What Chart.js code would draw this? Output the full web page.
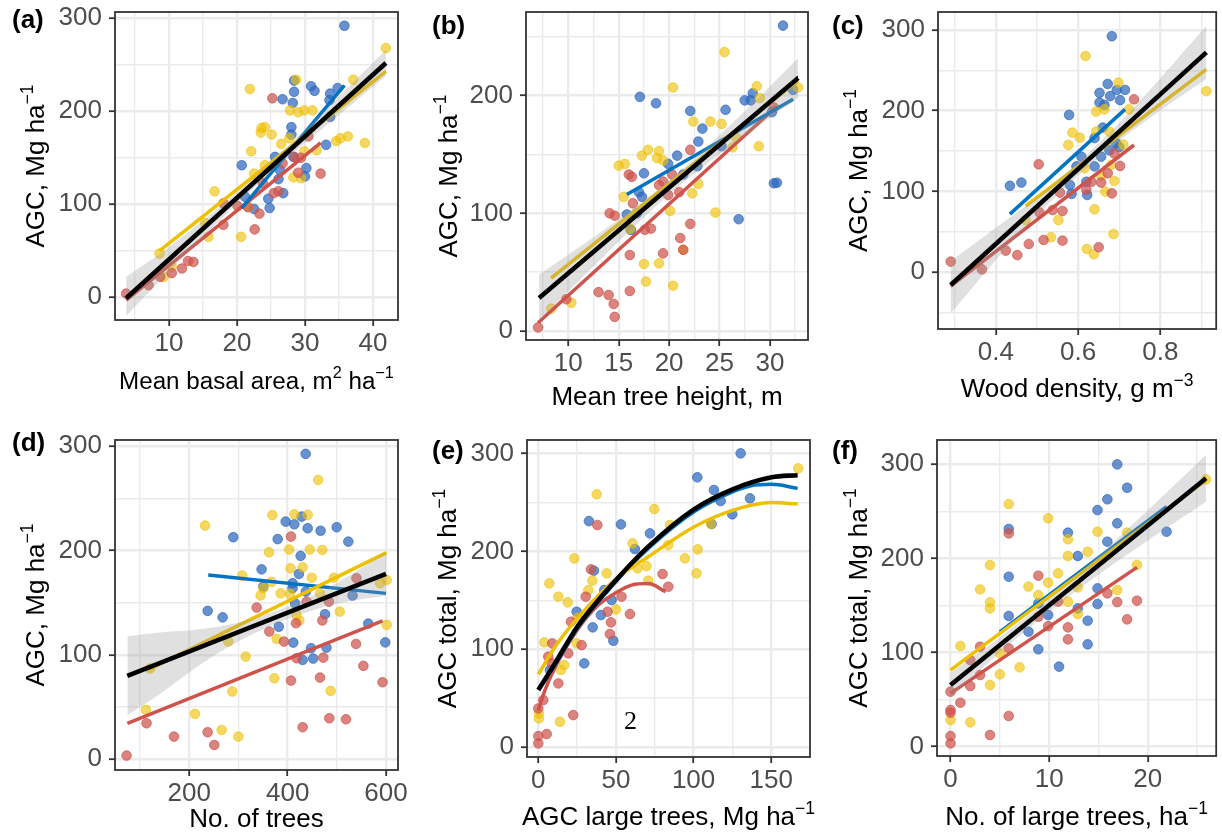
<!DOCTYPE html>
<html>
<head>
<meta charset="utf-8">
<title>AGC scatter panels</title>
<script src="https://cdn.jsdelivr.net/npm/chart.js@4/dist/chart.umd.min.js"></script>
<style>
  html, body { margin: 0; padding: 0; background: #fff; }
  #fig { position: relative; width: 1222px; height: 836px; overflow: hidden; }
  #fig canvas { position: absolute; }
</style>
</head>
<body>
<div id="fig"></div>
<script>
// ---- (a) mean basal area ----
const aBlue = [[35.8,292],[28.4,233],[30.9,227],[31.4,222],[28.4,221],[26.7,213],[28.2,209],[34.8,225],[33.7,219],[33.6,212],[28.0,183],[28.0,175],[33.7,194],[33.1,164],[20.7,142],[25.6,151],[26.3,137],[30.2,139],[30.0,130],[26.1,127],[26.8,112],[24.6,106],[24.8,96],[22.5,95],[21.2,108],[28.3,151]];
const aYellow = [[41.9,268],[37.1,234],[28.7,234],[21.9,224],[27.8,201],[29.0,199],[29.9,201],[31.1,201],[23.6,182],[24.1,183],[23.5,177],[25.1,175],[27.7,171],[26.5,165],[34.6,168],[35.2,171],[36.3,173],[38.8,166],[31.7,158],[22.1,157],[29.9,157],[24.1,142],[22.5,133],[28.3,129],[29.4,128],[16.7,114],[21.6,97],[20.6,65],[15.8,65],[15.3,80],[8.6,47],[9.2,22],[10.4,33]];
const aRed = [[25.2,214],[32.3,133],[30.5,173],[28.4,151],[29.4,150],[26.7,144],[29.0,134],[25.4,112],[26.1,114],[23.8,123],[23.3,90],[22.6,73],[21.6,97],[20.1,98],[18.0,78],[18.0,101],[12.8,39],[13.6,38],[11.9,31],[10.4,26],[3.7,4],[7.0,13],[8.7,22]];
const aFitBlack = [[3.7,-1],[41.9,252]];
const aFitYellow = [[8.6,50],[41.9,243]];
const aFitBlue = [[20.7,96],[35.8,228]];
const aFitRed = [[3.7,-3],[32.3,166]];
const aBand = [[3.7,-20,22],[10,27.7,53.7],[20,100.9,112.9],[25,134.5,145.5],[30,166,180],[35,196,216],[41.9,238,266]];

// ---- (b) mean tree height ----
const bBlue = [[31.3,259.5],[17.1,199],[18.7,193.5],[22.1,187],[25.6,188],[27.5,196],[28.3,202],[28.1,196],[32.3,205],[30.2,186],[23.3,172],[22.9,161],[20.8,149],[19.9,142],[17.5,134],[22.8,140],[25.2,157],[21.4,133],[30.4,125.5],[30.7,126],[17.0,118],[17.3,114],[15.8,99],[16.8,100],[16.2,86],[26.9,95]];
const bYellow = [[25.5,237],[20.4,207],[28.7,208],[32.8,207],[29.0,198],[22.4,178],[24.1,178],[25.2,176],[28.9,157],[26.7,164],[26.3,156],[17.3,149],[17.9,154],[19.0,153],[18.8,147],[19.4,145],[15.0,140.5],[15.6,142],[22.3,117],[22.9,125],[15.5,114],[20.1,102],[24.6,100.6],[21.4,69],[17.5,57],[19.0,57.5],[17.7,42],[20.4,38.5],[10.3,24],[8.3,19],[16.1,87]];
const bRed = [[22.1,154],[16.0,133],[16.3,131],[19.0,124],[19.4,127],[20.3,133],[16.4,108.5],[21.0,118],[19.9,115.6],[14.1,100],[14.6,98],[17.6,86],[18.2,87],[22.1,91],[21.1,79],[21.4,69],[19.4,66],[16.1,64.6],[13.0,33],[14.0,30.6],[14.5,23],[14.6,12],[16.1,34],[9.8,27],[7.0,3],[30.4,190]];
const bFitBlack = [[7.1,28],[32.8,215]];
const bFitYellow = [[8.3,45],[32.8,213]];
const bFitBlue = [[15.8,116],[32.3,197]];
const bFitRed = [[7.0,7],[30.7,191]];
const bBand = [[7.1,8,48],[12,50.7,76.7],[17,92.5,107.5],[20,115.9,127.9],[23,137.3,150.3],[28,169,191],[32.8,198,232]];

// ---- (c) wood density ----
const cBlue = [[0.682,292],[0.672,233],[0.652,222],[0.678,218],[0.694,225.6],[0.714,225.6],[0.702,213],[0.652,210],[0.664,207],[0.578,194.6],[0.66,179],[0.64,166],[0.692,160],[0.608,143],[0.64,131],[0.656,143],[0.596,131],[0.676,151],[0.7,155],[0.62,112],[0.622,95.7],[0.584,97],[0.58,108],[0.434,107],[0.462,111]];
const cYellow = [[0.618,267.6],[0.698,234.6],[0.912,224],[0.724,201.6],[0.644,198.8],[0.664,201.6],[0.586,172.8],[0.604,166.6],[0.576,157.5],[0.644,174],[0.676,174],[0.71,158],[0.68,132.8],[0.616,128.7],[0.656,119.6],[0.688,113],[0.666,99.8],[0.64,78],[0.552,64.7],[0.534,43.3],[0.686,47.4],[0.621,28.9],[0.638,22.3],[0.472,64.7]];
const cRed = [[0.736,214],[0.504,133.6],[0.702,131.5],[0.688,147],[0.672,122.5],[0.656,111],[0.632,112],[0.62,102],[0.682,97.7],[0.556,98.6],[0.538,77],[0.562,75.9],[0.506,74],[0.48,35],[0.516,40],[0.562,39.2],[0.65,31],[0.452,21.4],[0.424,26.8],[0.366,3.7],[0.29,13.2]];
const cFitBlack = [[0.29,-15.7],[0.912,272]];
const cFitYellow = [[0.472,82],[0.912,251]];
const cFitBlue = [[0.434,72],[0.714,201.6]];
const cFitRed = [[0.29,-17],[0.736,157.5]];
const cBand = [[0.29,-51,14],[0.4,15.2,55.2],[0.5,70.4,92.4],[0.6,119.7,135.7],[0.7,162.9,184.9],[0.8,200.2,240.2],[0.912,239,305]];

// ---- (d) number of trees ----
const dBlue = [[436.6,292.7],[396,227.8],[413.6,225.2],[428.5,232.6],[440.7,221.4],[467,219],[499.7,222.4],[523.4,208.6],[379.7,211],[289.5,212.8],[426.4,194.9],[347,182],[423,177.6],[410,168.7],[350.5,165.5],[410,163.9],[437,160.7],[532,156.9],[415,149.5],[237.3,142.2],[267.8,136],[476,139],[382,127],[564,130],[411.5,111.8],[447.5,106.4],[479,107],[430.5,95.2],[452,96.5],[598.6,112]];
const dYellow = [[462,267.7],[232,224],[368.8,234],[413.6,234.8],[440.7,234.2],[362,198.4],[403,201],[445,201],[470.5,200.6],[406,183],[430.5,184],[307.8,176],[367.5,170],[449,174],[494,174],[601.4,171.9],[588,168.7],[350.5,164],[345,157],[385.8,159],[465.8,159],[404.7,158.5],[506,141.5],[418,138.3],[423.7,133],[601.4,128.8],[377.6,115.3],[279.3,112.8],[314.6,98.4],[372.9,77.6],[287.5,64.9],[487.5,65.5],[111.9,47.3],[211.5,43.5],[265.8,28.1],[299.7,21.7],[120,87]];
const dRed = [[406.8,213.4],[540,173.5],[484,151],[337,145.4],[362.7,122.4],[392.5,112.8],[417,130.4],[470.5,133],[539,110.5],[418,96.8],[472.5,97.4],[554,89.5],[406.8,75.4],[465.8,78.3],[593,73.8],[484.7,39.3],[518.6,38.3],[430.5,30.7],[113,34.5],[168.8,21.7],[237.3,25.9],[250.8,13.7],[72.5,3.5],[438.6,151]];
const dFitBlack = [[73.9,80],[600,177.6]];
const dFitYellow = [[113,85],[601,198]];
const dFitBlue = [[238.6,176.7],[600,159]];
const dFitRed = [[74,34.5],[593,132.6]];
const dBand = [[74,42,118],[150,66,122],[200,83.4,123.4],[300,113,131],[400,134.5,146.5],[500,149,169],[600,156.6,198.6]];

// ---- (e) AGC of large trees ----
const eBlue = [[130.3,300.3],[102.4,275.8],[113.1,262.8],[117.4,251.5],[136.3,254.3],[124.9,237.9],[111.6,228],[32.6,231],[53.2,227.6],[71.9,218.4],[62.2,202.4],[35.8,180.2],[42.5,160.4],[47.2,150.2],[40.3,134.8],[24.7,138.2],[35,122.2],[48.3,108.5],[29.6,85.3],[7.5,78.5]];
const eYellow = [[167.4,285],[37.6,258.4],[74.7,243.3],[111.2,228],[83.7,206.5],[84.8,227],[60.7,208.2],[102.6,202],[94.4,192.8],[23.2,192.8],[101.9,177.5],[69.7,185],[63.9,182.6],[44,177.5],[70.8,170],[34.8,170],[7.1,167.2],[32.2,160.4],[12.9,153.6],[18.9,147.8],[50,140.6],[25.3,132],[3.9,106.8],[24.7,105.8],[16.7,83.6],[14.6,78.5],[0.4,29],[0.4,34.1],[13.9,25.6]];
const eRed = [[38,227],[33.9,181.6],[80,176.8],[83.7,163.8],[53.6,153.6],[30.5,153.6],[59,135.8],[44.6,138.2],[46.8,127.3],[21,128],[46.1,115.4],[27.9,104],[9,105.8],[19.3,95.6],[6.4,92.2],[12.9,64.8],[3.2,47.8],[0,39.2],[22.5,32.4],[5.4,13],[0,10.9],[0,3.4],[8.6,85.3]];
const eFitBlack = [[0,58],[10.7,85.3],[25.1,122.9],[38.6,150],[50,170.6],[70.8,204.8],[100.2,243],[125.1,263.5],[150.2,275.8],[167,278]];
const eFitBlue = [[1.1,61.4],[10.7,83.6],[25.1,121],[50,169],[70.8,203],[100.2,240.6],[125,261],[136.3,267],[150.2,268.6],[167,264.5]];
const eFitYellow = [[0,74],[10.7,102],[25.1,131.4],[50,172],[70.8,194.5],[100.2,225],[125.1,242],[150.2,250],[167,248.5]];
const eFitRed = [[0,37.5],[4.3,58],[10.7,81],[25.1,119.5],[38.6,145],[50,157.7],[60.1,165.5],[70.8,167],[82,158.7]];

// ---- (f) number of large trees ----
const fBlue = [[16.9,299.8],[17.9,275],[15.9,262.7],[14.9,251.3],[16.9,237.2],[5.9,231.2],[11.9,227.3],[21.9,228.3],[15.9,217.7],[12.9,202.5],[5.9,180.5],[14.9,168.1],[14.9,151.5],[8.9,152.2],[9.9,139.8],[5.9,138.8],[12.9,146.9],[13.9,133.8],[7.9,122.1],[8.9,103.4],[13.9,108.7],[11,85]];
const fYellow = [[25.9,283.9],[5.9,257.7],[9.9,242.5],[14.9,228.3],[11.9,220.2],[17.9,227.3],[11.9,202.5],[13.9,207],[4,192.9],[10.9,184.1],[7.9,170],[9.9,174.2],[3,167],[8.9,161],[12.9,169.2],[16.9,166.4],[18.9,193],[4,153.3],[4,146.9],[11.9,154],[12.9,140.9],[1,106.9],[5,99],[7,84.2],[5,76.8],[4,65.5],[0,28.3],[2,25.8]];
const fRed = [[5.9,226.5],[8.9,181.6],[15.9,162.8],[16.9,153.6],[18.9,155],[17.9,135.2],[10.9,154],[8.9,138],[9.9,128],[11.9,126.7],[11.9,114],[3,106.2],[5.9,104.4],[2,92],[3,76.1],[2,64.4],[0,58.4],[1,46.7],[5.9,32.6],[0,38.9],[0,36.1],[4,12.4],[0,11.3],[0,3.5]];
const fFitBlack = [[0,65.5],[25.9,285]];
const fFitYellow = [[0,81.4],[25.9,283]];
const fFitBlue = [[5,122],[21.9,254.9]];
const fFitRed = [[0,56.6],[18.9,190.4]];
const fBand = [[0,52.5,78.5],[5,99.9,115.9],[10,143.3,157.3],[15,182.6,202.6],[20,219,251],[25.9,260,310]];

// ---- styling ----
const FONT = "'Liberation Sans', Arial, Helvetica, sans-serif";
const TEXT_PX = 26;
const SUP_PX = 17.5;
const BLUE = '#0073C2', YELLOW = '#EFC000', RED = '#CD534C';
const BLUE_PT = 'rgba(46,104,188,0.72)';
const YELLOW_PT = 'rgba(239,192,0,0.62)';
const RED_PT = 'rgba(205,83,76,0.72)';
const BAND = 'rgba(153,153,153,0.3)';
const GRID = '#EBEBEB';
const INK = '#333333';

const AGC_Y = [['AGC, Mg ha'], ['\u22121', 1]];
const AGC_TOTAL_Y = [['AGC total, Mg ha'], ['\u22121', 1]];

// box = canvas [left, top, width, height]; frame = panel [left, top, right, bottom]
const panels = [
  { tag: '(a)', tagAt: [12, 21], box: [0, 0, 410, 420], frame: [115, 12, 398, 320],
    x: { min: 2.06, max: 43.68, step: 5, major: 10 }, y: { min: -24.4, max: 306.8, step: 50, major: 100 },
    xTitle: [['Mean basal area, m'], ['2', 1], [' ha'], ['\u22121', 1]], xTitleY: 380, xTitleScale: 0.93,
    yTitle: AGC_Y, yTitleX: 35,
    blue: aBlue, yellow: aYellow, red: aRed,
    fits: [aFitYellow, aFitBlue, aFitRed], black: aFitBlack, band: aBand },
  { tag: '(b)', tagAt: [432, 27], box: [410, 0, 410, 420], frame: [526, 12, 808, 340],
    x: { min: 5.8, max: 33.78, step: 2.5, major: 5 }, y: { min: -7.65, max: 271.1, step: 50, major: 100 },
    xTitle: [['Mean tree height, m']], xTitleY: 396,
    yTitle: AGC_Y, yTitleX: 448,
    blue: bBlue, yellow: bYellow, red: bRed,
    fits: [bFitYellow, bFitBlue, bFitRed], black: bFitBlack, band: bBand },
  { tag: '(c)', tagAt: [832, 27], box: [820, 0, 402, 420], frame: [938, 12, 1220, 329],
    x: { min: 0.2591, max: 0.9359, step: 0.1, major: 0.2, fmt: v => v.toFixed(1) },
    y: { min: -70.1, max: 322, step: 50, major: 100 },
    xTitle: [['Wood density, g m'], ['\u22123', 1]], xTitleY: 388,
    yTitle: AGC_Y, yTitleX: 858,
    blue: cBlue, yellow: cYellow, red: cRed,
    fits: [cFitYellow, cFitBlue, cFitRed], black: cFitBlack, band: cBand },
  { tag: '(d)', tagAt: [12, 444], box: [0, 420, 410, 416], frame: [115, 440, 398, 770],
    x: { min: 48.9, max: 624.4, step: 100, major: 200 }, y: { min: -10.3, max: 306, step: 50, major: 100 },
    xTitle: [['No. of trees']], xTitleY: 818,
    yTitle: AGC_Y, yTitleX: 35,
    blue: dBlue, yellow: dYellow, red: dRed,
    fits: [dFitYellow, dFitBlue, dFitRed], black: dFitBlack, band: dBand },
  { tag: '(e)', tagAt: [432, 452], box: [410, 420, 410, 416], frame: [527, 440, 810, 757],
    x: { min: -7.28, max: 174.95, step: 25, major: 50 }, y: { min: -10.5, max: 314, step: 50, major: 100 },
    xTitle: [['AGC large trees, Mg ha'], ['\u22121', 1]], xTitleY: 816,
    yTitle: AGC_TOTAL_Y, yTitleX: 447,
    blue: eBlue, yellow: eYellow, red: eRed,
    fits: [eFitYellow, eFitBlue, eFitRed], black: eFitBlack, band: null,
    note: { text: '2', x: 59.4, y: 25.5 } },
  { tag: '(f)', tagAt: [832, 452], box: [820, 420, 402, 416], frame: [937, 440, 1220, 756],
    x: { min: -1.37, max: 26.93, step: 5, major: 10 }, y: { min: -9.9, max: 325.7, step: 50, major: 100 },
    xTitle: [['No. of large trees, ha'], ['\u22121', 1]], xTitleY: 816,
    yTitle: AGC_TOTAL_Y, yTitleX: 858,
    blue: fBlue, yellow: fYellow, red: fRed,
    fits: [fFitYellow, fFitBlue, fFitRed], black: fFitBlack, band: fBand },
];

const isMajor = (v, m) => Math.abs(v / m - Math.round(v / m)) < 1e-6;
const toXY = arr => arr.map(([x, y]) => ({ x, y }));

// text with superscript pieces, centred on (cx, cy); rotated for y titles
function drawRich(ctx, parts, cx, cy, rotated, scale = 1) {
  const basePx = TEXT_PX * scale, supPx = SUP_PX * scale;
  const base = `${basePx}px ${FONT}`, sup = `${supPx}px ${FONT}`;
  let w = 0;
  parts.forEach(p => { ctx.font = p[1] ? sup : base; w += ctx.measureText(p[0]).width; });
  ctx.save();
  ctx.translate(cx, cy);
  if (rotated) ctx.rotate(-Math.PI / 2);
  ctx.fillStyle = '#000';
  ctx.textBaseline = 'alphabetic';
  ctx.textAlign = 'left';
  let x = -w / 2;
  const baseY = basePx * 0.36;
  parts.forEach(p => {
    ctx.font = p[1] ? sup : base;
    ctx.fillText(p[0], x, p[1] ? baseY - 11.5 * scale : baseY);
    x += ctx.measureText(p[0]).width;
  });
  ctx.restore();
}

const panelDecor = {
  id: 'panelDecor',
  afterDraw(chart, args, opts) {
    const p = opts.panel;
    const { ctx, chartArea: a } = chart;
    const [bx, by] = p.box;
    ctx.save();
    // panel border on top of the data
    ctx.strokeStyle = INK;
    ctx.lineWidth = 1.8;
    ctx.strokeRect(a.left, a.top, a.right - a.left, a.bottom - a.top);

    // stray label inside panel (e)
    if (p.note) {
      ctx.font = `26px 'Liberation Serif', 'DejaVu Serif', serif`;
      ctx.fillStyle = '#000';
      ctx.textAlign = 'center';
      ctx.textBaseline = 'middle';
      ctx.fillText(p.note.text, chart.scales.x.getPixelForValue(p.note.x), chart.scales.y.getPixelForValue(p.note.y));
    }

    // panel tag
    ctx.font = `bold ${TEXT_PX}px ${FONT}`;
    ctx.fillStyle = '#000';
    ctx.textAlign = 'left';
    ctx.textBaseline = 'middle';
    ctx.fillText(p.tag, p.tagAt[0] - bx, p.tagAt[1] - by);

    // axis titles
    drawRich(ctx, p.xTitle, (a.left + a.right) / 2, p.xTitleY - by, false, p.xTitleScale || 1);
    drawRich(ctx, p.yTitle, p.yTitleX - bx, (a.top + a.bottom) / 2, true);
    ctx.restore();
  }
};

function axis(spec, isX, fitSize) {
  const fmt = spec.fmt || (v => String(Math.round(v)));
  return {
    type: 'linear',
    position: isX ? 'bottom' : 'left',
    min: spec.min,
    max: spec.max,
    border: { display: false },
    grid: {
      color: GRID,
      lineWidth: ctx => isMajor(ctx.tick.value, spec.major) ? 2.4 : 1.4,
      drawTicks: true,
      tickLength: 6,
      tickWidth: 1.8,
      tickColor: ctx => isMajor(ctx.tick.value, spec.major) ? INK : 'rgba(0,0,0,0)',
    },
    ticks: {
      stepSize: spec.step,
      includeBounds: false,
      autoSkip: false,
      maxRotation: 0,
      padding: isX ? 2 : 7,
      color: '#4D4D4D',
      font: { family: FONT, size: TEXT_PX },
      callback: v => isMajor(v, spec.major) ? fmt(v) : '',
    },
    afterFit(s) {
      if (isX) s.height = fitSize; else s.width = fitSize;
      s.paddingLeft = s.paddingRight = s.paddingTop = s.paddingBottom = 0;
    },
  };
}

const fig = document.getElementById('fig');

panels.forEach(p => {
  const [bx, by, bw, bh] = p.box;
  const [fl, ft, fr, fb] = p.frame;
  const canvas = document.createElement('canvas');
  canvas.width = bw;
  canvas.height = bh;
  Object.assign(canvas.style, { left: bx + 'px', top: by + 'px', width: bw + 'px', height: bh + 'px' });
  fig.appendChild(canvas);

  const points = (arr, color) => ({
    type: 'scatter', data: toXY(arr), showLine: false, order: 3, clip: 0,
    pointRadius: 4.8, pointBackgroundColor: color, pointBorderColor: color, pointBorderWidth: 1,
  });
  const line = (arr, color, width, order) => ({
    type: 'line', data: toXY(arr), order, clip: 0, fill: false,
    borderColor: color, borderWidth: width, pointRadius: 0, borderCapStyle: 'butt',
    cubicInterpolationMode: 'monotone',
  });

  const datasets = [
    points(p.red, RED_PT),
    points(p.yellow, YELLOW_PT),
    points(p.blue, BLUE_PT),
    line(p.fits[0], YELLOW, 3.5, 2),
    line(p.fits[1], BLUE, 3.5, 2),
    line(p.fits[2], RED, 3.5, 2),
  ];
  if (p.band) {
    datasets.push({
      type: 'line', data: p.band.map(r => ({ x: r[0], y: r[1] })), order: 1, clip: 0,
      borderColor: 'rgba(0,0,0,0)', borderWidth: 0, pointRadius: 0, fill: false,
      cubicInterpolationMode: 'monotone',
    });
    datasets.push({
      type: 'line', data: p.band.map(r => ({ x: r[0], y: r[2] })), order: 1, clip: 0,
      borderColor: 'rgba(0,0,0,0)', borderWidth: 0, pointRadius: 0, fill: '-1',
      backgroundColor: BAND, cubicInterpolationMode: 'monotone',
    });
  }
  datasets.push(line(p.black, '#000', 4.6, 0));

  new Chart(canvas, {
    type: 'scatter',
    data: { datasets },
    options: {
      responsive: false,
      animation: false,
      devicePixelRatio: 1,
      events: [],
      layout: { padding: { left: 0, top: ft - by, right: bx + bw - fr, bottom: 0 } },
      plugins: {
        legend: { display: false },
        tooltip: { enabled: false },
        panelDecor: { panel: p },
      },
      scales: {
        x: axis(p.x, true, by + bh - fb),
        y: axis(p.y, false, fl - bx),
      },
    },
    plugins: [panelDecor],
  });
});
</script>
</body>
</html>
